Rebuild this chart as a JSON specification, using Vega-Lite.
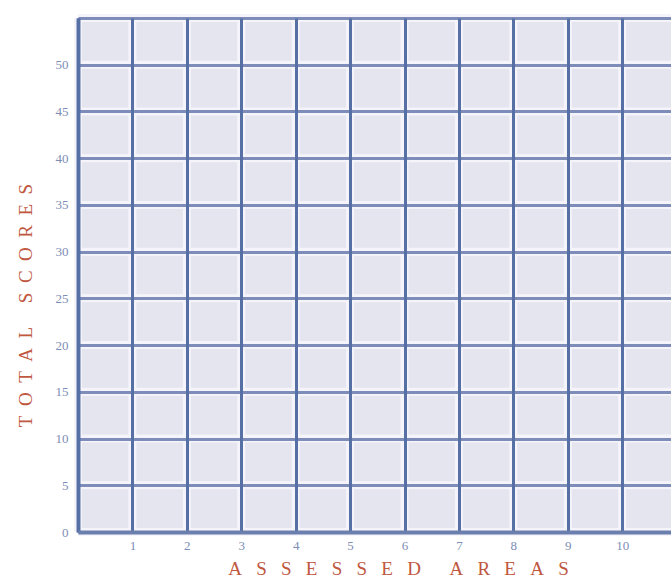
{
  "$schema": "https://vega.github.io/schema/vega-lite/v6.json",
  "width": 653,
  "height": 514,
  "autosize": {"type": "none"},
  "padding": {"left": 78, "top": 18, "right": 0, "bottom": 50},
  "background": "white",
  "config": {
    "view": {"fill": "#e5e5ef", "stroke": null},
    "axis": {
      "labelFont": "Liberation Serif",
      "labelFontSize": 13,
      "labelColor": "#7d8db5",
      "titleFont": "Liberation Serif",
      "titleFontSize": 19,
      "titleFontWeight": "normal",
      "titleColor": "#c0583f",
      "ticks": false
    }
  },
  "datasets": {
    "areas": [{"area": 0}, {"area": 1}, {"area": 2}, {"area": 3}, {"area": 4}, {"area": 5}, {"area": 6}, {"area": 7}, {"area": 8}, {"area": 9}, {"area": 10}, {"area": 11}, {"area": 12}],
    "scores": [{"score": 0}, {"score": 5}, {"score": 10}, {"score": 15}, {"score": 20}, {"score": 25}, {"score": 30}, {"score": 35}, {"score": 40}, {"score": 45}, {"score": 50}, {"score": 55}]
  },
  "layer": [
    {
      "data": {"name": "areas"},
      "mark": {"type": "rule", "stroke": "#f6f4fb", "strokeWidth": 8},
      "encoding": {
        "x": {
          "field": "area", "type": "quantitative",
          "scale": {"domain": [0, 12], "nice": false, "zero": false},
          "axis": {
            "title": "A\u00a0\u00a0\u00a0S\u00a0\u00a0\u00a0S\u00a0\u00a0\u00a0E\u00a0\u00a0\u00a0S\u00a0\u00a0\u00a0S\u00a0\u00a0\u00a0E\u00a0\u00a0\u00a0D\u00a0\u00a0\u00a0\u00a0\u00a0\u00a0A\u00a0\u00a0\u00a0R\u00a0\u00a0\u00a0E\u00a0\u00a0\u00a0A\u00a0\u00a0\u00a0S",
            "values": [0, 1, 2, 3, 4, 5, 6, 7, 8, 9, 10, 11, 12],
            "labelExpr": "datum.value == 0 ? '' : datum.label",
            "grid": true, "gridColor": "#5670a5", "gridWidth": 3, "gridOpacity": 1,
            "domain": true, "domainColor": "#6a7fae", "domainWidth": 4,
            "labelPadding": 7,
            "titlePadding": 7,
            "titleX": 320,
            "zindex": 2
          }
        }
      }
    },
    {
      "data": {"name": "scores"},
      "mark": {"type": "rule", "stroke": "#f6f4fb", "strokeWidth": 8},
      "encoding": {
        "y": {
          "field": "score", "type": "quantitative",
          "scale": {"domain": [0, 55], "nice": false},
          "axis": {
            "title": "T\u00a0\u00a0O\u00a0\u00a0T\u00a0\u00a0A\u00a0\u00a0L\u00a0\u00a0\u00a0\u00a0\u00a0S\u00a0\u00a0C\u00a0\u00a0O\u00a0\u00a0R\u00a0\u00a0E\u00a0\u00a0S",
            "values": [0, 5, 10, 15, 20, 25, 30, 35, 40, 45, 50, 55],
            "labelExpr": "datum.value == 55 ? '' : datum.label",
            "grid": true, "gridColor": "#7d8cb8", "gridWidth": 3, "gridOpacity": 1,
            "domain": true, "domainColor": "#5a72a8", "domainWidth": 4,
            "labelPadding": 10,
            "titlePadding": 20,
            "titleY": 287,
            "zindex": 1
          }
        }
      }
    }
  ]
}
